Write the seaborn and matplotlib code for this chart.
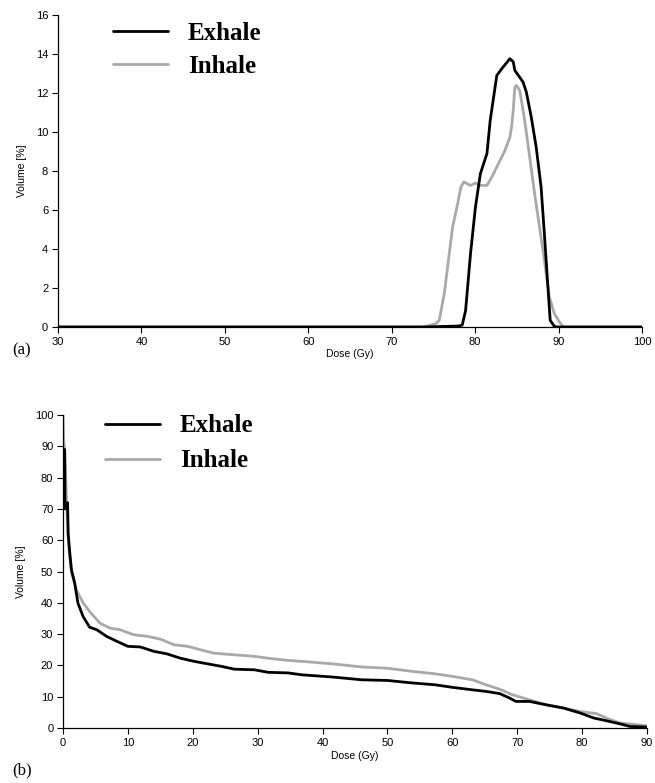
import numpy as np
import pandas as pd
import matplotlib.pyplot as plt
import seaborn as sns

# === Data: (a) differential DVH ===
dose_a_exhale = [30, 74, 78.0, 78.46, 78.86, 79.45, 80.04, 80.63, 81.42, 81.81, 82.6, 83.2, 84.17,
                 84.57, 84.76, 85.75, 86.14, 86.73, 87.32, 87.91, 88.3, 88.7, 89.0, 89.5, 89.9, 100]
vol_a_exhale = [0, 0, 0.05, 0.1, 0.85, 3.76, 6.15, 7.86, 8.9, 10.6, 12.9, 13.25, 13.76,
                13.6, 13.16, 12.56, 12.05, 10.77, 9.23, 7.18, 4.79, 2.22, 0.34, 0.03, 0, 0]

dose_a_inhale = [30, 73.5, 74.1, 75.3, 75.7, 76.3, 76.9, 77.3, 77.9, 78.3, 78.66, 79.05, 79.45, 80.04,
                 80.63, 81.42, 82.0, 82.8, 83.58, 84.17, 84.37, 84.57, 84.76, 84.96, 85.35, 85.94,
                 86.54, 87.13, 87.72, 88.3, 88.9, 89.5, 90.1, 90.5, 91, 100]
vol_a_inhale = [0, 0, 0.03, 0.17, 0.34, 1.7, 3.76, 5.13, 6.3, 7.18, 7.44, 7.35, 7.26, 7.38,
                7.26, 7.26, 7.69, 8.38, 9.06, 9.74, 10.26, 11.1, 12.3, 12.39, 12.13, 10.6,
                8.72, 6.84, 5.13, 3.42, 1.54, 0.68, 0.26, 0.03, 0, 0]

# === Data: (b) cumulative DVH ===
dose_b_exhale = [0.25, 0.3, 0.7, 0.8, 1.0, 1.3, 1.8, 2.3, 3.1, 4.1, 5.2, 6.7, 8.3, 10, 11.9, 14, 16,
                 18.1, 20.2, 22.3, 24.4, 26.4, 29.5, 31.6, 34.7, 36.8, 41.5, 46.1, 50, 53.8, 57.4,
                 60, 63.1, 65.2, 67.3, 68.8, 69.8, 71.9, 74.5, 77.1, 79.7, 81.8, 83.8, 85.9, 87.4, 90]
vol_b_exhale = [89, 70, 72, 62, 57, 50.5, 46.3, 39.9, 35.6, 32.2, 31.4, 29.3, 27.7, 26.1, 25.9, 24.5,
                23.7, 22.3, 21.3, 20.5, 19.7, 18.8, 18.6, 17.8, 17.6, 17, 16.3, 15.4, 15.2, 14.4,
                13.8, 13, 12.2, 11.7, 11, 9.6, 8.5, 8.5, 7.4, 6.4, 4.8, 3.2, 2.3, 1.3, 0.5, 0.3]

dose_b_inhale = [0, 0.1, 0.3, 0.5, 0.78, 1.0, 1.3, 2.07, 3.1, 4.1, 5.7, 7.25, 8.8, 10.9, 13, 15, 17.1,
                 19.2, 21.2, 23.3, 26.4, 29.5, 31.6, 34.7, 36.8, 41.5, 46.1, 50, 53.8, 57.4, 60,
                 63.1, 65.2, 67.3, 69.3, 71.9, 74.5, 77.1, 79.7, 82.2, 84.3, 85.9, 87.4, 90]
vol_b_inhale = [100, 92, 88, 75, 61, 55, 50, 44, 40, 37.2, 33.5, 31.9, 31.4, 29.8, 29.3, 28.4, 26.6,
                26.1, 25, 23.9, 23.4, 22.9, 22.3, 21.6, 21.3, 20.5, 19.5, 19.1, 18.1, 17.3, 16.5,
                15.4, 13.8, 12.4, 10.6, 9.0, 7.4, 6.4, 5.3, 4.6, 2.7, 1.6, 1.3, 0.7]

labels = ["Exhale", "Inhale"]
colors = {"Exhale": "#000000", "Inhale": "#a9a9a9"}


def to_frame(d_ex, v_ex, d_in, v_in):
    ex = pd.DataFrame({"dose": d_ex, "vol": v_ex, "phase": "Exhale"})
    inh = pd.DataFrame({"dose": d_in, "vol": v_in, "phase": "Inhale"})
    return ex, inh


sns.set_style("ticks")
plt.rcParams["font.family"] = ["Liberation Sans", "DejaVu Sans"]
plt.rcParams["text.color"] = "black"
plt.rcParams["axes.labelcolor"] = "black"

fig = plt.figure(figsize=(6.55, 7.83), dpi=100)
ax_a = fig.add_axes([0.0885, 0.5824, 0.8916, 0.3984])
ax_b = fig.add_axes([0.0962, 0.0702, 0.8916, 0.3998])

panels = [
    (ax_a, to_frame(dose_a_exhale, vol_a_exhale, dose_a_inhale, vol_a_inhale),
     (30, 100), np.arange(30, 101, 10), (0, 16), np.arange(0, 17, 2), 0.094, 0.978, 0.4),
    (ax_b, to_frame(dose_b_exhale, vol_b_exhale, dose_b_inhale, vol_b_inhale),
     (0, 90), np.arange(0, 91, 10), (0, 100), np.arange(0, 101, 10), 0.072, 1.002, 0.48),
]

for ax, (ex, inh), xlim, xt, ylim, yt, lx, ly, lsp in panels:
    # inhale first so exhale sits on top
    sns.lineplot(data=inh, x="dose", y="vol", color=colors["Inhale"], lw=2.0,
                 sort=False, estimator=None, ax=ax, label="Inhale")
    sns.lineplot(data=ex, x="dose", y="vol", color=colors["Exhale"], lw=2.0,
                 sort=False, estimator=None, ax=ax, label="Exhale")
    ax.set_xlim(*xlim)
    ax.set_ylim(*ylim)
    ax.set_xticks(xt)
    ax.set_yticks(yt)
    ax.tick_params(direction="out", length=4, width=0.8, labelsize=8, pad=3, colors="black")
    ax.set_xlabel("Dose (Gy)", fontsize=7.5, labelpad=2)
    ax.set_ylabel("Volume [%]", fontsize=7.5, labelpad=6)
    for s in ["left", "bottom"]:
        ax.spines[s].set_linewidth(0.9)
        ax.spines[s].set_color("black")
    sns.despine(ax=ax)
    handles, labs = ax.get_legend_handles_labels()
    order = [labs.index(l) for l in labels]
    ax.legend([handles[i] for i in order], [labs[i] for i in order],
              loc="upper left", bbox_to_anchor=(lx, ly), frameon=False,
              borderaxespad=0, borderpad=0, handlelength=2.2, handletextpad=0.8,
              labelspacing=lsp, prop={"family": "Liberation Serif", "weight": "bold", "size": 18})

fig.text(0.018, 0.553, "(a)", fontsize=12, family="Liberation Serif", va="center")
fig.text(0.018, 0.016, "(b)", fontsize=12, family="Liberation Serif", va="center")

plt.savefig("out.png", dpi=100)
